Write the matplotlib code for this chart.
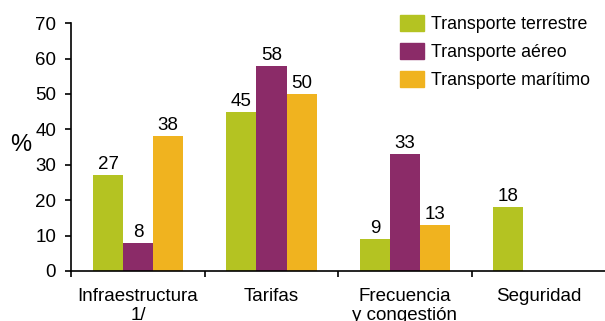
import numpy as np
import matplotlib
matplotlib.use("Agg")
import matplotlib.pyplot as plt
from matplotlib.patches import Patch

plt.rcParams['font.family'] = ['Liberation Sans', 'DejaVu Sans']

# Datos
categorias = ["Infraestructura\n1/", "Tarifas", "Frecuencia\ny congestión", "Seguridad"]
series = ["Transporte terrestre", "Transporte aéreo", "Transporte marítimo"]
terrestre = [27, 45, 9, 18]
aereo = [8, 58, 33, np.nan]
maritimo = [38, 50, 13, np.nan]
colores = ["#b4c322", "#8b2b68", "#f0b31f"]

fig = plt.figure(figsize=(6.05, 3.21), dpi=100)
ax = fig.add_axes([0.118, 0.156, 0.882, 0.772])

x = np.arange(len(categorias))
ancho = 0.225
for i, (vals, col) in enumerate(zip([terrestre, aereo, maritimo], colores)):
    barras = ax.bar(x + (i - 1) * ancho, vals, ancho, color=col)
    etiquetas = ["" if np.isnan(v) else f"{v:.0f}" for v in vals]
    ax.bar_label(barras, labels=etiquetas, padding=1.5, fontsize=13.5)

ax.set_xlim(-0.5, len(categorias) - 0.5)
ax.set_ylim(0, 70)
ax.set_yticks(range(0, 71, 10))
ax.tick_params(axis="y", labelsize=13.5, length=4, width=1.2, pad=7)

# ticks entre grupos, etiquetas al centro
ax.set_xticks(np.arange(len(categorias)) - 0.5)
ax.set_xticklabels([])
ax.tick_params(axis="x", which="major", length=4, width=1.2)
ax.set_xticks(x, minor=True)
ax.set_xticklabels(categorias, minor=True, fontsize=13.5, linespacing=1.15)
ax.tick_params(axis="x", which="minor", length=0, pad=12)

for s in ["top", "right"]:
    ax.spines[s].set_visible(False)
ax.spines["left"].set_linewidth(1.2)
ax.spines["bottom"].set_linewidth(1.2)

fig.text(0.035, 0.548, "%", fontsize=17, va="center", ha="center")

handles = [Patch(color=c) for c in colores]
fig.legend(handles, series, loc="upper left", bbox_to_anchor=(0.661, 0.952),
           frameon=False, fontsize=12.8, handlelength=1.35, handleheight=1.0,
           handletextpad=0.42, labelspacing=0.55, borderpad=0, borderaxespad=0)

fig.savefig("out.png", dpi=100)
